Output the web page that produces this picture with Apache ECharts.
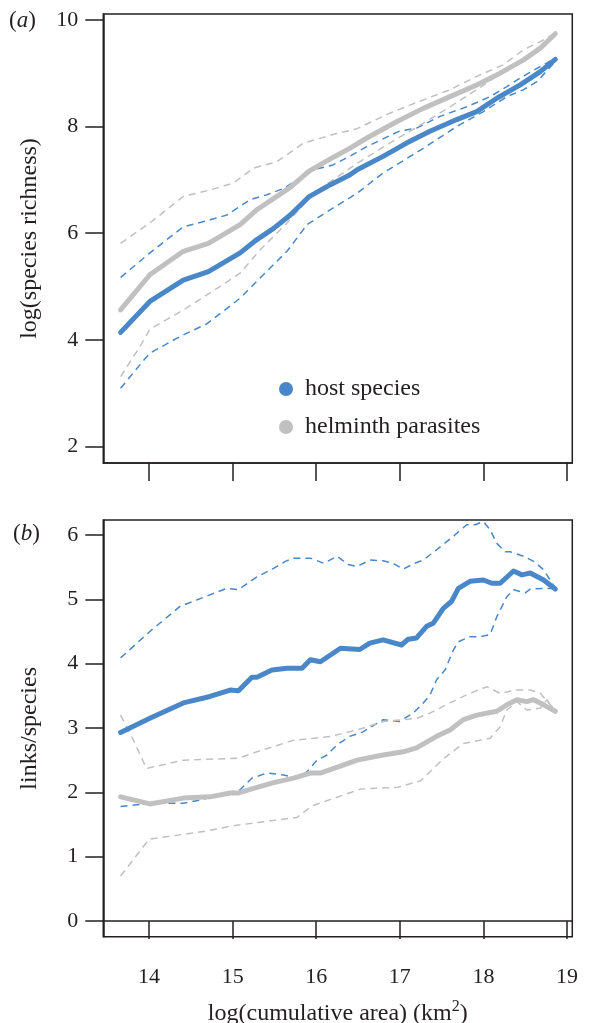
<!DOCTYPE html>
<html>
<head>
<meta charset="utf-8">
<script src="https://cdn.jsdelivr.net/npm/echarts@6/dist/echarts.min.js"></script>
<style>
html,body{margin:0;padding:0;background:#fff;}
#main{width:589px;height:1023px;}
</style>
</head>
<body>
<div id="main"></div>
<script>
// x ticks (log cumulative area)
var xTicks=[14,15,16,17,18,19];
var yTicksA=[2,4,6,8,10];
var yTicksB=[0,1,2,3,4,5,6];

// (a) species richness, [log area, log richness]
var aHost=[[13.66,4.14],[14.01,4.72],[14.41,5.12],[14.71,5.28],[15.09,5.63],[15.29,5.88],[15.49,6.09],[15.69,6.34],[15.91,6.68],[16.17,6.91],[16.40,7.09],[16.49,7.19],[16.80,7.44],[17.08,7.69],[17.36,7.91],[17.68,8.13],[17.92,8.28],[18.16,8.53],[18.44,8.78],[18.68,9.03],[18.86,9.26]];
var aHostHi=[[13.66,5.17],[14.01,5.63],[14.41,6.12],[14.73,6.25],[14.93,6.34],[15.21,6.63],[15.41,6.72],[15.61,6.84],[15.97,7.19],[16.20,7.28],[16.40,7.44],[16.60,7.62],[16.99,7.91],[17.20,7.97],[17.48,8.19],[17.80,8.37],[18.08,8.56],[18.28,8.75],[18.44,8.91],[18.64,9.09],[18.86,9.28]];
var aHostLo=[[13.66,3.09],[13.89,3.53],[14.01,3.75],[14.37,4.06],[14.69,4.30],[15.09,4.78],[15.29,5.10],[15.65,5.66],[15.89,6.16],[16.20,6.47],[16.49,6.75],[16.80,7.13],[16.99,7.31],[17.28,7.59],[17.68,8.00],[18.00,8.28],[18.28,8.56],[18.48,8.69],[18.64,8.84],[18.86,9.22]];
var aHelm=[[13.66,4.56],[14.01,5.22],[14.41,5.66],[14.71,5.81],[15.09,6.16],[15.29,6.44],[15.69,6.86],[15.91,7.16],[16.20,7.42],[16.40,7.59],[16.60,7.78],[16.96,8.09],[17.28,8.34],[17.60,8.56],[17.92,8.78],[18.20,9.00],[18.48,9.25],[18.68,9.47],[18.86,9.74]];
var aHelmHi=[[13.66,5.81],[14.01,6.19],[14.41,6.69],[14.73,6.81],[15.01,6.94],[15.25,7.22],[15.53,7.34],[15.85,7.69],[16.20,7.85],[16.49,7.96],[16.88,8.25],[17.28,8.50],[17.60,8.69],[17.92,8.94],[18.24,9.16],[18.48,9.44],[18.68,9.59],[18.86,9.75]];
var aHelmLo=[[13.66,3.31],[13.89,3.87],[14.01,4.20],[14.41,4.56],[14.73,4.88],[15.09,5.25],[15.33,5.69],[15.65,6.19],[15.97,6.75],[16.20,7.00],[16.49,7.31],[16.88,7.69],[17.28,8.06],[17.60,8.37],[17.92,8.69],[18.24,9.03],[18.56,9.31],[18.72,9.56],[18.86,9.72]];

// (b) links per species
var bHost=[[13.66,2.93],[14.01,3.15],[14.41,3.39],[14.73,3.49],[14.97,3.59],[15.07,3.58],[15.23,3.79],[15.29,3.79],[15.47,3.90],[15.65,3.93],[15.83,3.93],[15.93,4.06],[16.05,4.03],[16.29,4.24],[16.52,4.22],[16.64,4.32],[16.80,4.37],[17.02,4.29],[17.10,4.38],[17.20,4.40],[17.32,4.58],[17.40,4.63],[17.52,4.86],[17.62,4.97],[17.70,5.17],[17.84,5.28],[18.00,5.30],[18.10,5.25],[18.20,5.25],[18.36,5.44],[18.46,5.38],[18.56,5.41],[18.72,5.30],[18.86,5.16]];
var bHostHi=[[13.66,4.09],[14.01,4.50],[14.37,4.89],[14.57,4.99],[14.93,5.17],[15.07,5.15],[15.29,5.35],[15.49,5.48],[15.63,5.59],[15.73,5.64],[15.93,5.64],[16.09,5.56],[16.25,5.67],[16.38,5.54],[16.49,5.51],[16.64,5.61],[16.80,5.60],[16.92,5.56],[17.04,5.47],[17.18,5.56],[17.28,5.61],[17.44,5.77],[17.64,5.98],[17.80,6.16],[17.90,6.16],[18.00,6.21],[18.08,6.08],[18.16,5.87],[18.26,5.74],[18.32,5.74],[18.48,5.67],[18.60,5.59],[18.72,5.46],[18.86,5.17]];
var bHostLo=[[13.66,1.78],[14.01,1.83],[14.41,1.83],[14.61,1.88],[15.09,2.04],[15.23,2.22],[15.41,2.30],[15.61,2.27],[15.77,2.22],[15.89,2.32],[16.01,2.50],[16.13,2.58],[16.25,2.74],[16.40,2.87],[16.56,2.94],[16.80,3.13],[16.99,3.10],[17.16,3.23],[17.28,3.39],[17.36,3.51],[17.44,3.75],[17.54,3.90],[17.64,4.21],[17.70,4.34],[17.84,4.42],[17.96,4.42],[18.08,4.45],[18.16,4.73],[18.28,5.04],[18.36,5.15],[18.50,5.10],[18.56,5.16],[18.72,5.17],[18.86,5.17]];
var bHelm=[[13.66,1.93],[14.01,1.82],[14.41,1.91],[14.73,1.93],[14.97,1.99],[15.07,1.99],[15.25,2.06],[15.49,2.15],[15.73,2.22],[15.93,2.30],[16.05,2.30],[16.38,2.45],[16.49,2.50],[16.80,2.58],[17.04,2.63],[17.20,2.69],[17.44,2.87],[17.60,2.97],[17.76,3.13],[17.92,3.20],[18.16,3.26],[18.28,3.36],[18.40,3.44],[18.52,3.41],[18.60,3.44],[18.72,3.36],[18.86,3.26]];
var bHelmHi=[[13.66,3.20],[13.81,2.82],[13.97,2.37],[14.41,2.50],[15.07,2.53],[15.29,2.63],[15.73,2.81],[15.97,2.84],[16.17,2.87],[16.49,2.97],[16.80,3.10],[17.20,3.15],[17.36,3.23],[17.60,3.39],[17.84,3.54],[18.04,3.64],[18.20,3.54],[18.40,3.59],[18.56,3.59],[18.68,3.54],[18.78,3.39],[18.86,3.28]];
var bHelmLo=[[13.66,0.70],[14.00,1.27],[14.69,1.40],[15.00,1.48],[15.77,1.61],[15.95,1.79],[16.53,2.05],[16.98,2.08],[17.25,2.18],[17.52,2.52],[17.76,2.76],[17.96,2.81],[18.08,2.84],[18.20,3.02],[18.28,3.28],[18.40,3.41],[18.52,3.28],[18.68,3.31],[18.76,3.44],[18.86,3.23]];

var BLUE='#4a87c8', GREY='#c0c0c0', INK='#231f20';
var FONT="'Liberation Serif','Times New Roman',serif";

function solid(name,data,color,idx)
{
    return {type:'line',name:name,data:data,xAxisIndex:idx,yAxisIndex:idx,showSymbol:false,symbol:'none',
        color:color,lineStyle:{color:color,width:5,cap:'round',join:'round'},z:3};
}
function dashed(name,data,color,idx)
{
    return {type:'line',name:name,data:data,xAxisIndex:idx,yAxisIndex:idx,showSymbol:false,symbol:'none',
        color:color,lineStyle:{color:color,width:1.5,type:[7,5]},z:2};
}
function xAx(idx,labels)
{
    var ax={type:'value',gridIndex:idx,min:13.453,max:19.063,
        axisLine:{show:true,lineStyle:{color:INK,width:1.5}},
        axisTick:{show:true,length:18,customValues:xTicks,lineStyle:{color:INK,width:1.5}},
        axisLabel:{show:labels,customValues:xTicks,margin:30,color:INK,fontSize:22,fontFamily:FONT},
        splitLine:{show:false}};
    if(labels)
    {
        ax.name='log(cumulative area) (km{s|2})';
        ax.nameLocation='middle';
        ax.nameGap=62;
        ax.nameTextStyle={color:INK,fontSize:24,fontFamily:FONT,
            rich:{s:{fontSize:16,fontFamily:FONT,color:INK,padding:[0,0,14,0]}}};
    }
    return ax;
}
function yAx(idx,min,max,ticks,name)
{
    return {type:'value',gridIndex:idx,min:min,max:max,name:name,nameLocation:'middle',nameGap:62,
        nameTextStyle:{color:INK,fontSize:24,fontFamily:FONT},
        axisLine:{show:true,lineStyle:{color:INK,width:1.5}},
        axisTick:{show:true,length:18,customValues:ticks,lineStyle:{color:INK,width:1.5}},
        axisLabel:{customValues:ticks,margin:25,color:INK,fontSize:22,fontFamily:FONT},
        splitLine:{show:false}};
}

var myChart=echarts.init(document.getElementById('main'),null,{renderer:'canvas'});
var option={
    backgroundColor:'#fff',
    animation:false,
    grid:[
        {left:103.3,top:14,width:469,height:449,show:true,borderColor:INK,borderWidth:1.5,outerBoundsMode:'none',containLabel:false},
        {left:103.3,top:520,width:469,height:416.7,show:true,borderColor:INK,borderWidth:1.5,outerBoundsMode:'none',containLabel:false}
    ],
    xAxis:[xAx(0,false),xAx(1,true)],
    yAxis:[
        yAx(0,1.69,10.11,yTicksA,'log(species richness)'),
        yAx(1,-0.244,6.233,yTicksB,'links/species')
    ],
    legend:{
        data:['host species','helminth parasites'],
        orient:'vertical',left:279,top:377,padding:0,
        icon:'circle',itemWidth:14,itemHeight:14,itemGap:14,
        itemStyle:{borderWidth:0},
        textStyle:{color:INK,fontSize:24,fontFamily:FONT,padding:[0,0,0,7]}
    },
    graphic:[
        {type:'text',left:9,top:9,style:{text:'({i|a})',fill:INK,fontSize:23,fontFamily:FONT,
            rich:{i:{fontStyle:'italic',fontSize:23,fontFamily:FONT,fill:INK}}}},
        {type:'text',left:13,top:522,style:{text:'({i|b})',fill:INK,fontSize:23,fontFamily:FONT,
            rich:{i:{fontStyle:'italic',fontSize:23,fontFamily:FONT,fill:INK}}}}
    ],
    series:[
        dashed('host hi',aHostHi,BLUE,0),
        dashed('host lo',aHostLo,BLUE,0),
        dashed('helm hi',aHelmHi,GREY,0),
        dashed('helm lo',aHelmLo,GREY,0),
        solid('helminth parasites',aHelm,GREY,0),
        solid('host species',aHost,BLUE,0),
        dashed('host hi b',bHostHi,BLUE,1),
        dashed('host lo b',bHostLo,BLUE,1),
        dashed('helm hi b',bHelmHi,GREY,1),
        dashed('helm lo b',bHelmLo,GREY,1),
        solid('helminth parasites',bHelm,GREY,1),
        solid('host species',bHost,BLUE,1)
    ]
};
myChart.setOption(option);
</script>
</body>
</html>
